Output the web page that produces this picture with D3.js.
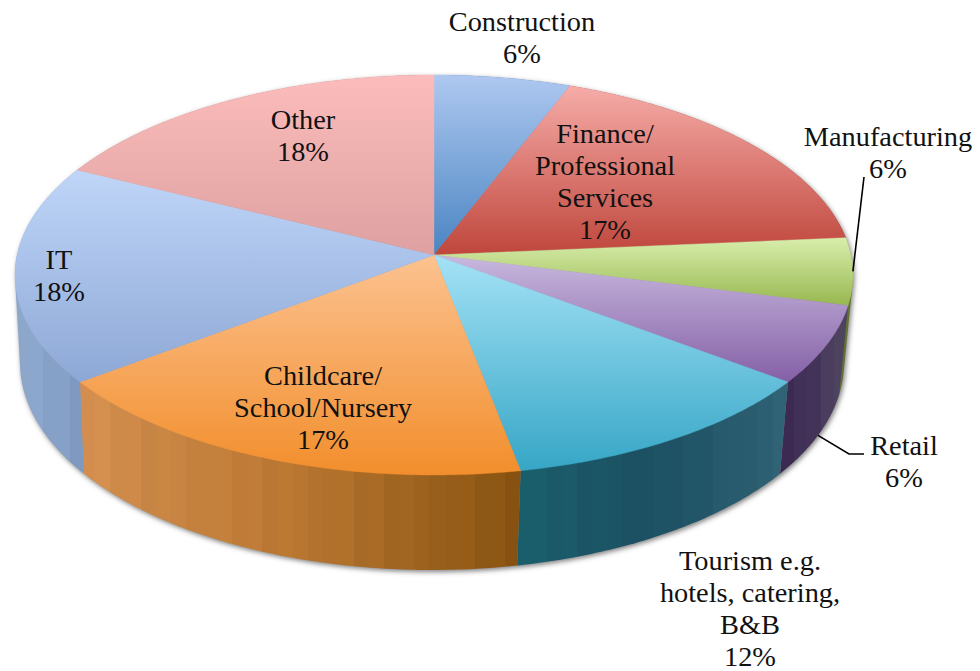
<!DOCTYPE html>
<html><head><meta charset="utf-8">
<script src="https://cdn.jsdelivr.net/npm/d3@7"></script>
<style>html,body{margin:0;padding:0;background:#fff}svg{display:block}text{font-family:"Liberation Serif",serif;font-size:27px;fill:#111}</style>
</head><body><svg id="c" width="980" height="671"></svg>
<script>
const categories=["Construction","Finance/Professional Services","Manufacturing","Retail","Tourism e.g. hotels, catering, B&B","Childcare/School/Nursery","IT","Other"];
const values=[5.8,17.8,5.4,6.3,11.7,17.7,17.7,17.6];
const percentLabels=["6%","17%","6%","6%","12%","17%","18%","18%"];
const topLight=["#aec8f0","#f6aca8","#d8eeac","#c8b8de","#a4e2f6","#fcc290","#bfd6f8","#fcbcbc"];
const topDark=["#4a85c2","#bf463c","#98b850","#8460a6","#36a6c6","#f28e2c","#8ea8d6","#dea0a0"];
const wallLeft=["#3f6f9f","#8f3a32","#5f7030","#3b2850","#1a5e6c","#d48f50","#8ea8cc","#b08080"];
const wallMid=["#3f6f9f","#8f3a32","#5f7030","#44345a","#1c5062","#b87630","#88a2c8","#b08080"];
const wallRight=["#3f6f9f","#8f3a32","#5f7030","#504862","#2f6274","#875210","#7f9ac2","#b08080"];
const labelLines=[["Construction"],["Finance/","Professional","Services"],["Manufacturing"],["Retail"],["Tourism e.g.","hotels, catering,","B&B"],["Childcare/","School/Nursery"],["IT"],["Other"]];
const labelX=[522,605,888,904,750,323,59,303];
const labelY=[31,143,146,455,570,385,269,129];
const leaders=[null,null,{level:"top",via:[[864,177]]},{level:"bottom",via:[[849,454],[864,454]]},null,null,null,null];

const svg=d3.select("#c"),defs=svg.append("defs");
const a=0.1,k=Math.sqrt(1-a*a);
const xTop=d3.scaleLinear().domain([-1,1]).range([15,853]);
const yTop=d3.scaleLinear().domain([-1,1]).range([475,75]);
const xBot=d3.scaleLinear().domain([-1,1]).range([20,844]);
const yBot=d3.scaleLinear().domain([-1,1]).range([570,156]);
function proj(t){const u=Math.sin(t),v=Math.cos(t),w=1+a*v;return [u*k/w,(v+a)/w];}
const onTop=t=>{const p=proj(t);return [xTop(p[0]),yTop(p[1])];};
const onBot=t=>{const p=proj(t);return [xBot(p[0]),yBot(p[1])];};
const apex=[xTop(0),yTop(a)];
const arcs=d3.pie().sort(null).value(d=>d)(values);
const line=d3.line();
const sample=d=>d3.range(d.startAngle,d.endAngle,0.012).concat([d.endAngle]);

const blur=defs.append("filter").attr("id","sh").attr("x","-5%").attr("y","-5%").attr("width","110%").attr("height","115%");
blur.append("feGaussianBlur").attr("stdDeviation",2.8);
const rim=d3.range(0,2*Math.PI,0.02);
const g=svg.append("g");
const hullAll=d3.polygonHull(rim.map(onTop).concat(rim.map(onBot)));
g.append("path").attr("d",line(hullAll)+"Z").attr("fill","#555").attr("fill-opacity",.75).attr("filter","url(#sh)").attr("transform","translate(1.5,2)");

// side wall: one outline per slice, filled with vertical hard-edged bands
const shade=[0,.05,-.03,.03,-.05,.02,0,-.03];
arcs.map((d,i)=>({d,i})).sort((p,q)=>Math.cos((q.d.startAngle+q.d.endAngle)/2)-Math.cos((p.d.startAngle+p.d.endAngle)/2)).forEach(({d,i})=>{
  const ts=sample(d),hull=d3.polygonHull(ts.map(onTop).concat(ts.map(onBot)));
  const xs=hull.map(p=>p[0]),x0=d3.min(xs),x1=d3.max(xs);
  const gr=defs.append("linearGradient").attr("id","w"+i).attr("gradientUnits","userSpaceOnUse")
    .attr("x1",x0).attr("x2",x1).attr("y1",0).attr("y2",0);
  const n=Math.max(2,Math.round((x1-x0)/15));
  const col=d3.piecewise(d3.interpolateRgb,[wallLeft[i],wallMid[i],wallRight[i]]);
  d3.range(n).forEach(j=>{
    let c=d3.rgb(col((j+.5)/n));
    const s=shade[j%shade.length];
    c=(s>=0?c.brighter(s):c.darker(-s)).formatHex();
    gr.append("stop").attr("offset",j/n).attr("stop-color",c);
    gr.append("stop").attr("offset",(j+1)/n).attr("stop-color",c);
  });
  g.append("path").attr("d",line(hull)+"Z").attr("fill","url(#w"+i+")");
});

// top face
arcs.forEach((d,i)=>{
  const pts=sample(d).map(onTop);
  const ys=pts.map(p=>p[1]).concat([apex[1]]);
  const gr=defs.append("linearGradient").attr("id","t"+i).attr("gradientUnits","userSpaceOnUse")
    .attr("x1",0).attr("x2",0).attr("y1",d3.min(ys)).attr("y2",d3.max(ys));
  gr.append("stop").attr("offset",0).attr("stop-color",topLight[i]);
  gr.append("stop").attr("offset",1).attr("stop-color",topDark[i]);
  g.append("path").attr("d",line([apex,...pts])+"Z").attr("fill","url(#t"+i+")").attr("stroke","url(#t"+i+")").attr("stroke-width",.4);
});

// leaders
arcs.forEach((d,i)=>{
  const L=leaders[i]; if(!L) return;
  const mid=(d.startAngle+d.endAngle)/2, s=(L.level==="top"?onTop:onBot)(mid);
  svg.append("path").attr("d",line([s,...L.via])).attr("fill","none").attr("stroke","#000").attr("stroke-width",1.6);
});

// labels
const pitch=32,sx=1.05;
arcs.forEach((d,i)=>{
  [...labelLines[i],percentLabels[i]].forEach((s,j)=>{
    svg.append("text").attr("text-anchor","middle")
      .attr("transform",`translate(${labelX[i]},${labelY[i]+j*pitch}) scale(${sx},1)`).text(s);
  });
});
</script></body></html>
